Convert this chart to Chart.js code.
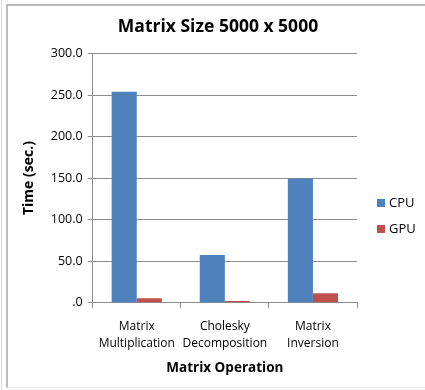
<!DOCTYPE html>
<html>
<head>
<meta charset="utf-8">
<script src="https://cdn.jsdelivr.net/npm/chart.js@4/dist/chart.umd.min.js"></script>
<style>
  html, body { margin: 0; padding: 0; background: #ffffff; }
  #wrap { width: 425px; height: 390px; position: relative; }
</style>
</head>
<body>
<div id="wrap"><canvas id="c" width="425" height="390"></canvas></div>
<script>
// Benchmark timings (seconds) for 5000 x 5000 matrices
const categories = [
  ['Matrix', 'Multiplication'],
  ['Cholesky', 'Decomposition'],
  ['Matrix', 'Inversion']
];
const cpuTimes = [254.0, 57.5, 149.5];
const gpuTimes = [5.5, 2.0, 11.3];
const seriesNames = ['CPU', 'GPU'];
const yTickLabels = ['.0', '50.0', '100.0', '150.0', '200.0', '250.0', '300.0'];
const chartTitle = 'Matrix Size 5000 x 5000';

const FONT = '"Open Sans", "Liberation Sans", sans-serif';
const GRID = '#8c8c8c';

// Outer frame of the chart panel and the heading
const framePlugin = {
  id: 'frame',
  beforeDraw(chart) {
    const ctx = chart.ctx;
    ctx.save();
    ctx.fillStyle = '#ffffff';
    ctx.fillRect(0, 0, chart.width, chart.height);
    ctx.strokeStyle = '#d9d9d9';
    ctx.lineWidth = 1;
    ctx.beginPath();
    ctx.moveTo(1.5, 0); ctx.lineTo(1.5, chart.height);
    ctx.stroke();
    ctx.strokeStyle = '#a6a6a6';
    ctx.lineWidth = 1.5;
    ctx.beginPath();
    ctx.moveTo(7, chart.height - 2);
    ctx.lineTo(7, 5);
    ctx.lineTo(chart.width, 5);
    ctx.stroke();
    ctx.strokeStyle = '#ececec';
    ctx.lineWidth = 1;
    ctx.beginPath();
    ctx.moveTo(7, chart.height - 2.5); ctx.lineTo(chart.width, chart.height - 2.5);
    ctx.stroke();

    ctx.fillStyle = '#000000';
    ctx.font = 'bold 17.5px ' + FONT;
    ctx.textAlign = 'center';
    ctx.textBaseline = 'middle';
    ctx.fillText(chartTitle, 218, 27);
    ctx.restore();
  }
};

// Legend drawn beside the plot from the dataset labels and colours
const sideLegend = {
  id: 'sideLegend',
  afterDraw(chart) {
    const ctx = chart.ctx;
    const x0 = chart.chartArea.right + 20;
    let y = 203;
    ctx.save();
    ctx.font = '13px ' + FONT;
    ctx.textBaseline = 'middle';
    chart.data.datasets.forEach(ds => {
      ctx.fillStyle = ds.backgroundColor;
      ctx.fillRect(x0, y - 4, 8, 8);
      ctx.fillStyle = '#000000';
      ctx.fillText(ds.label, x0 + 12, y + 0.5);
      y += 26;
    });
    ctx.restore();
  }
};

new Chart(document.getElementById('c'), {
  type: 'bar',
  data: {
    labels: categories,
    datasets: [
      { label: seriesNames[0], data: cpuTimes, backgroundColor: '#4f81bd' },
      { label: seriesNames[1], data: gpuTimes, backgroundColor: '#c0504d' }
    ]
  },
  plugins: [framePlugin, sideLegend],
  options: {
    responsive: false,
    animation: false,
    devicePixelRatio: 1,
    layout: { padding: { left: 8, right: 68, top: 53.5, bottom: 8 } },
    datasets: {
      bar: { categoryPercentage: 0.57, barPercentage: 1.0 }
    },
    plugins: {
      legend: { display: false },
      tooltip: { enabled: false },
      title: { display: false }
    },
    scales: {
      x: {
        grid: {
          display: true,
          drawOnChartArea: false,
          drawTicks: true,
          tickLength: 5,
          color: GRID,
          offset: true
        },
        border: { display: true, color: GRID },
        ticks: {
          color: '#000000',
          font: { family: FONT, size: 12, lineHeight: 1.42 },
          padding: 10,
          maxRotation: 0,
          autoSkip: false
        },
        title: {
          display: true,
          text: 'Matrix Operation',
          color: '#000000',
          font: { family: FONT, size: 13.5, weight: 'bold' },
          padding: { top: 0, bottom: 6 }
        },
        afterFit(scale) { scale.height = 390 - 8 - 302.7; }
      },
      y: {
        min: 0,
        max: 300,
        grid: {
          color: GRID,
          tickLength: 5,
          drawTicks: true
        },
        border: { display: true, color: GRID },
        ticks: {
          stepSize: 50,
          color: '#000000',
          font: { family: FONT, size: 12.5 },
          padding: 5,
          callback: (value, index) => yTickLabels[index]
        },
        title: {
          display: true,
          text: 'Time (sec.)',
          color: '#000000',
          font: { family: FONT, size: 14, weight: 'bold' },
          padding: { top: 13, bottom: 0 }
        },
        afterFit(scale) { scale.width = 92.7 - 8; }
      }
    }
  }
});
</script>
</body>
</html>
